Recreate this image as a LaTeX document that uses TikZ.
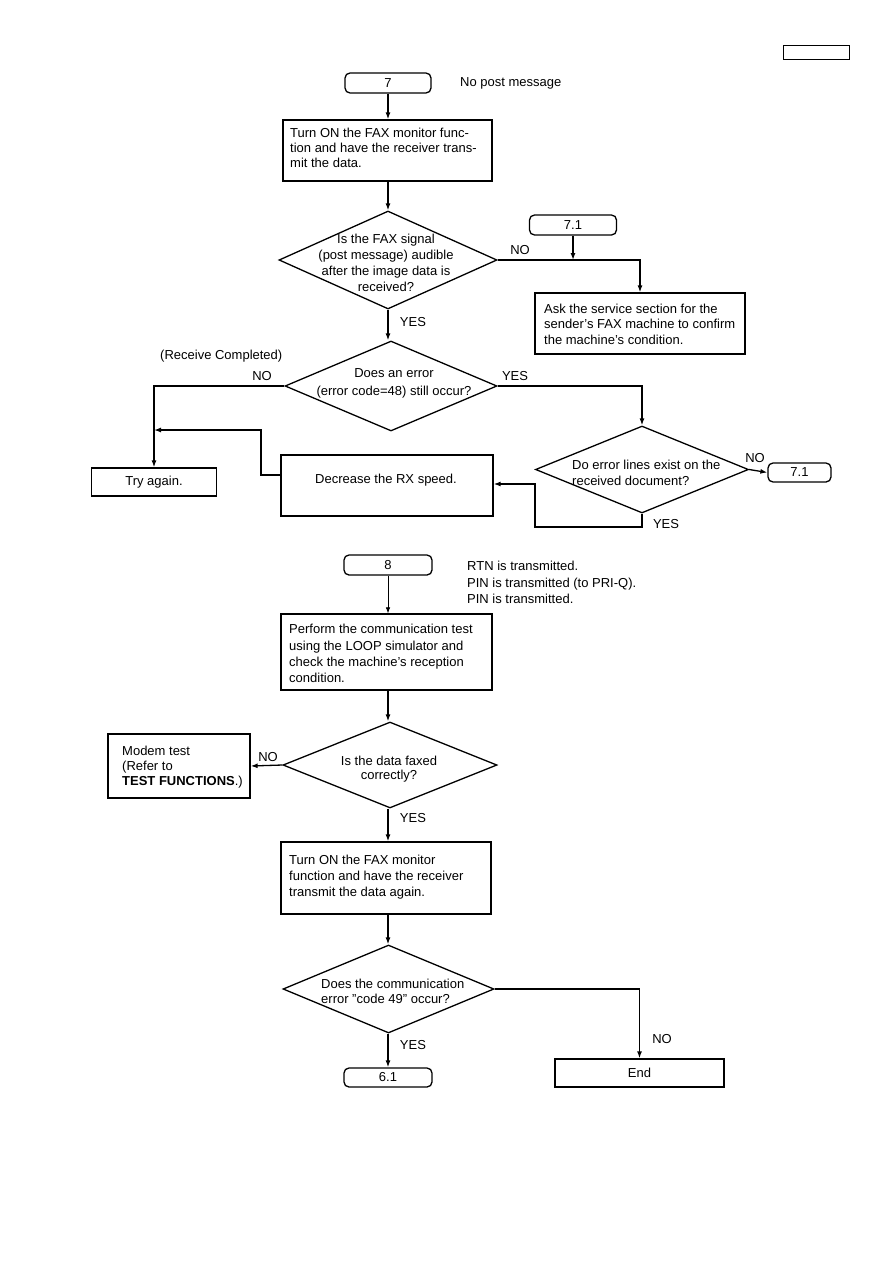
\documentclass[tikz,border=0pt]{standalone}
\usepackage{fontspec}
\setmainfont{Liberation Sans}
\usetikzlibrary{shapes.geometric,arrows.meta}
\begin{document}
\begin{tikzpicture}[x=1pt,y=-1pt,
  every node/.style={font=\fontsize{13}{16}\selectfont},
  rbox/.style={draw,line width=1.3pt,inner sep=0pt},
  cbox/.style={draw,line width=1.3pt,inner sep=0pt,align=center},
  term/.style={draw,line width=1.3pt,rounded corners=5pt,inner sep=0pt,align=center},
  dia/.style={draw,line width=1.3pt,diamond,inner sep=0pt},
  lbl/.style={inner sep=0pt},
  ltxt/.style={inner sep=0pt,align=left,anchor=west},
  conn/.style={line width=1.3pt,-{Latex[length=7pt,width=5pt]}},
  thin/.style={line width=0.7pt,-{Latex[length=6pt,width=4.5pt]}}
]
\useasboundingbox (0,0) rectangle (893,1263);

% header box
\node[draw,line width=1pt,minimum width=66,minimum height=14,inner sep=0pt] (hdr) at (816,53) {};

% ---------- part 7 ----------
\node[term,minimum width=86,minimum height=20] (t7) at (388,83) {7};
\node[lbl,anchor=west] (n7) at (460,83) {No post message};

\node[rbox,minimum width=209,minimum height=61] (b1) at (387.5,150.5) {};
\node[ltxt,font=\fontsize{13}{14.7}\selectfont] (b1t) at (290,148)
  {Turn ON the FAX monitor func-\\tion and have the receiver trans-\\mit the data.};

\node[dia,minimum width=218,minimum height=98] (d1) at (388,260) {};
\node[lbl,align=center] (d1t) at (386,263) {Is the FAX signal\\(post message) audible\\after the image data is\\received?};

\node[term,minimum width=87,minimum height=20] (t71a) at (573,225) {7.1};
\node[rbox,minimum width=210,minimum height=61] (ask) at (640,323.5) {};
\node[ltxt,font=\fontsize{13}{15.5}\selectfont] (askt) at (544,324)
  {Ask the service section for the\\sender's FAX machine to confirm\\the machine's condition.};
\node[lbl] (no1) at (520,250) {NO};
\node[lbl] (yes1) at (413,322) {YES};

\node[dia,minimum width=212,minimum height=90] (d2) at (391,386) {};
\node[lbl,align=center,font=\fontsize{13}{18}\selectfont] (d2t) at (394,383) {Does an error\\(error code=48) still occur?};
\node[lbl,anchor=west] (rc) at (160,356) {(Receive Completed)};
\node[lbl] (no2) at (262,376) {NO};
\node[lbl] (yes2) at (515,376) {YES};

\node[cbox,minimum width=125,minimum height=28] (try) at (154,482) {Try again.};
\node[rbox,minimum width=212,minimum height=61] (dec) at (387,485.5) {};
\node[lbl] (dect) at (386,480) {Decrease the RX speed.};

\node[dia,minimum width=213,minimum height=87] (d3) at (642,469.5) {};
\node[ltxt] (d3t) at (572,473) {Do error lines exist on the\\received document?};
\node[term,minimum width=63,minimum height=19] (t71b) at (799.5,472.5) {7.1};
\node[lbl] (no3) at (755,458) {NO};
\node[lbl] (yes3) at (666,524) {YES};

\draw[conn] (t7.south) -- (t7.south |- b1.north);
\draw[conn] (b1.south -| t7.south) -- (d1.north);
\draw[conn] (d1.east) -- (d1.east -| ask.north) -- (ask.north);
\draw[conn] (t71a.south) -- (t71a.south |- d1.east);
\draw[conn] (d1.south) -- (d2.north -| d1.south);
\draw[conn] (d2.west) -- (d2.west -| try.north) -- (try.north);
\coordinate (lp1) at (261,475);
\coordinate (lp2) at (261,430);
\draw[conn] (dec.west |- lp1) -- (lp1) -- (lp2) -- (lp2 -| try.north);
\draw[conn] (d2.east) -- (d2.east -| d3.north) -- (d3.north);
\draw[conn] (d3.east) -- (t71b.west);
\coordinate (lp3) at (642,527);
\coordinate (lp4) at (535,527);
\coordinate (lp5) at (535,484);
\draw[conn] (d3.south) -- (lp3) -- (lp4) -- (lp5) -- (lp5 -| dec.east);

% ---------- part 8 ----------
\node[term,minimum width=88,minimum height=20] (t8) at (388,565) {8};
\node[ltxt,font=\fontsize{13}{16.5}\selectfont] (n8) at (467,582.5) {RTN is transmitted.\\PIN is transmitted (to PRI-Q).\\PIN is transmitted.};

\node[rbox,minimum width=211,minimum height=76] (b2) at (386.5,652) {};
\node[ltxt,font=\fontsize{13}{16.3}\selectfont] (b2t) at (289,653.5)
  {Perform the communication test\\using the LOOP simulator and\\check the machine's reception\\condition.};

\node[dia,minimum width=214,minimum height=86] (d4) at (390,765) {};
\node[lbl,align=center,font=\fontsize{13}{14.5}\selectfont] (d4t) at (389,769) {Is the data faxed\\correctly?};
\node[rbox,minimum width=142,minimum height=64] (modem) at (179,766) {};
\node[ltxt,font=\fontsize{13}{15}\selectfont] (modemt) at (122,767)
  {Modem test\\(Refer to\\\textbf{TEST FUNCTIONS}.)};
\node[lbl] (no4) at (268,757) {NO};
\node[lbl] (yes4) at (413,818) {YES};

\node[rbox,minimum width=210,minimum height=72] (b3) at (386,878) {};
\node[ltxt] (b3t) at (289,877)
  {Turn ON the FAX monitor\\function and have the receiver\\transmit the data again.};

\node[dia,minimum width=211,minimum height=88] (d5) at (388.5,989) {};
\node[ltxt,font=\fontsize{13}{15}\selectfont] (d5t) at (321,991.5) {Does the communication\\error "code 49" occur?};
\node[term,minimum width=88,minimum height=19] (t61) at (388,1077.5) {6.1};
\node[cbox,minimum width=169,minimum height=28] (end) at (639.5,1073) {End};
\node[lbl] (yes5) at (413,1045) {YES};
\node[lbl] (no5) at (662,1039) {NO};

\draw[thin] (t8.south) -- (t8.south |- b2.north);
\draw[conn] (b2.south -| t8.south) -- (d4.north -| t8.south);
\draw[conn] (d4.west) -- (modem.east);
\draw[conn] (d4.south -| t8.south) -- (b3.north -| t8.south);
\draw[conn] (b3.south -| t8.south) -- (d5.north -| t8.south);
\draw[conn] (d5.south -| t8.south) -- (t61.north);
\draw[conn] (d5.east) -- (d5.east -| end.north) -- (end.north);
\end{tikzpicture}
\end{document}
